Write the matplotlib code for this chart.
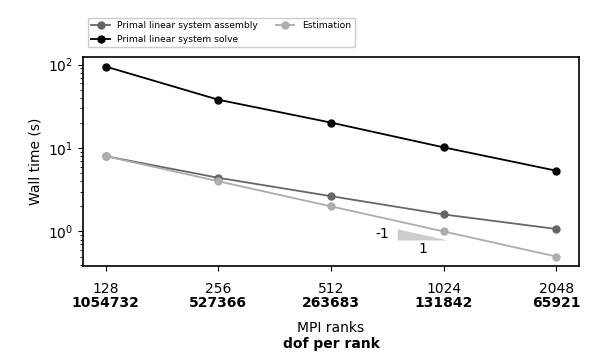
import matplotlib
matplotlib.use("Agg")
import matplotlib.pyplot as plt
from matplotlib.patches import Polygon
from matplotlib.ticker import FixedLocator, NullLocator
import matplotlib.transforms as mtransforms

# data
ranks = [128, 256, 512, 1024, 2048]
dofs_per_rank = [1054732, 527366, 263683, 131842, 65921]
assembly = [8.0, 4.4, 2.65, 1.6, 1.07]
solve = [95.0, 38.0, 20.2, 10.2, 5.35]
estimation = [8.0, 4.0, 2.0, 1.0, 0.5]

fig = plt.figure(figsize=(5.98, 3.61), dpi=100)
ax = fig.add_axes([0.139, 0.263, 0.829, 0.579])

ax.plot(ranks, assembly, "-o", color="0.4", lw=1.3, ms=5, label="Primal linear system assembly")
ax.plot(ranks, solve, "-o", color="black", lw=1.3, ms=5, label="Primal linear system solve")
ax.plot(ranks, estimation, "-o", color="0.68", lw=1.3, ms=5, label="Estimation")

ax.set_xscale("log", base=2)
ax.set_yscale("log")
ax.xaxis.set_major_locator(FixedLocator(ranks))
ax.xaxis.set_minor_locator(NullLocator())
ax.set_xticklabels([str(r) for r in ranks], fontsize=10)
ax.tick_params(axis="x", pad=8)
ax.tick_params(axis="y", labelsize=10)
for sp in ax.spines.values():
    sp.set_linewidth(1.2)

# bold dof-per-rank line under tick labels
trans = mtransforms.blended_transform_factory(ax.transData, fig.transFigure)
for r, d in zip(ranks, dofs_per_rank):
    ax.text(r, 1 - 303 / 361, str(d), transform=trans, ha="center", va="center",
            fontsize=10, fontweight="bold")

fig.text(0.139 + 0.829 / 2, 1 - 328 / 361, "MPI ranks", ha="center", va="center", fontsize=10)
fig.text(0.139 + 0.829 / 2, 1 - 344 / 361, "dof per rank", ha="center", va="center",
         fontsize=10, fontweight="bold")
ax.set_ylabel("Wall time (s)", fontsize=10)

# slope triangle (-1)
x0, y0, fac = 772, 0.78, 1.36
tri = Polygon([[x0, y0], [x0, y0 * fac], [x0 * fac, y0]], closed=True,
              facecolor="#cccccc", edgecolor="none")
ax.add_patch(tri)
ax.text(700, 0.92, "-1", ha="center", va="center", fontsize=10)
ax.text(900, 0.61, "1", ha="center", va="center", fontsize=10)

ax.legend(loc="lower left", bbox_to_anchor=(0.0, 1.024), ncol=2, fontsize=6.6,
          borderaxespad=0.5, framealpha=1.0, edgecolor="0.8")

fig.savefig("out.png", dpi=100)
